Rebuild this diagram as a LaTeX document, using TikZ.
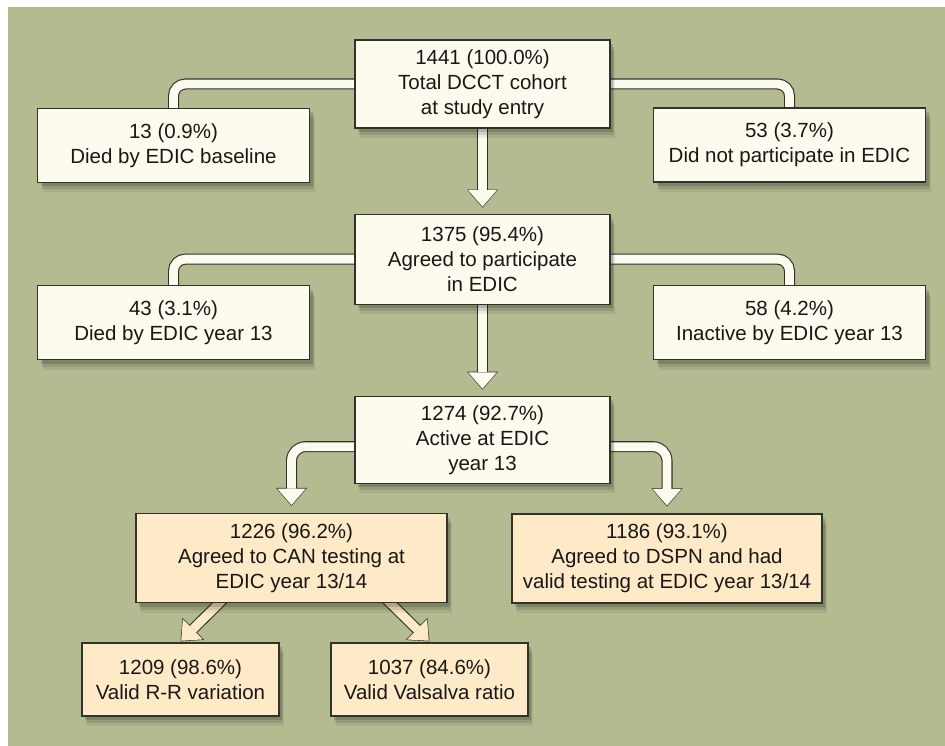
\documentclass[tikz,border=0pt]{standalone}
\usepackage{fontspec}
\setmainfont{Liberation Sans}
\usetikzlibrary{positioning,shadows,arrows.meta,backgrounds}

\definecolor{bgGreen}{RGB}{180,187,145}
\definecolor{boxCream}{RGB}{253,251,238}
\definecolor{boxPeach}{RGB}{254,234,199}
\definecolor{lineDark}{RGB}{50,50,44}
\definecolor{textDark}{RGB}{25,23,23}

\tikzset{
    box/.style={rectangle, draw=lineDark, line width=1.1pt, fill=boxCream, text=textDark,
        align=center, inner sep=0pt, font=\fontsize{20.5}{25}\selectfont,
        drop shadow={shadow xshift=5pt, shadow yshift=-10pt, opacity=.07, fill=black},
        drop shadow={shadow xshift=4pt, shadow yshift=-7pt, opacity=.1, fill=black},
        drop shadow={shadow xshift=3pt, shadow yshift=-4pt, opacity=.15, fill=black}},
    mainBox/.style={box, minimum width=255pt, minimum height=88pt},
    sideBox/.style={box, minimum width=272pt, minimum height=74pt},
    canBox/.style={box, fill=boxPeach, minimum width=311pt, minimum height=89pt},
    leafBox/.style={box, fill=boxPeach, minimum width=197pt, minimum height=73pt},
    pipe/.style={draw=lineDark, line width=11pt, rounded corners=12pt,
        postaction={draw=boxCream, line width=8.8pt}},
    fatArrow/.style={draw=lineDark, line width=11pt, rounded corners=14pt,
        -{Triangle[width=31pt, length=18pt, line width=0pt]},
        postaction={draw=#1, line width=8.8pt, shorten >=1pt,
            -{Triangle[width=28.4pt, length=16.3pt, line width=0pt]}}},
    fatArrow/.default=boxCream
}

\begin{document}
\begin{tikzpicture}[x=1pt, y=-1pt]

        \useasboundingbox (0,0) rectangle (945,746);

        % Vertices
        \node[mainBox](total) at (482.5,84){1441 (100.0\%)\\Total DCCT cohort\\at study entry};
        \node[sideBox](diedBase) at (173.5,145.5){13 (0.9\%)\\Died by EDIC baseline};
        \node[sideBox](noPart) at (789.5,145){53 (3.7\%)\\Did not participate in EDIC};
        \node[mainBox, minimum height=90pt](agreed)[below = 85pt of total]{1375 (95.4\%)\\Agreed to participate\\in EDIC};
        \node[sideBox](died13) at (173.5,322.5){43 (3.1\%)\\Died by EDIC year 13};
        \node[sideBox](inactive) at (789.5,322.5){58 (4.2\%)\\Inactive by EDIC year 13};
        \node[mainBox, minimum height=87pt](active)[below = 91pt of agreed]{1274 (92.7\%)\\Active at EDIC\\year 13};
        \node[canBox](canTest) at (291.5,558){1226 (96.2\%)\\Agreed to CAN testing at\\EDIC year 13/14};
        \node[canBox, minimum width=310pt](dspn) at (667,558.5){1186 (93.1\%)\\Agreed to DSPN and had\\valid testing at EDIC year 13/14};
        \node[leafBox](rrVar) at (180.5,679.5){1209 (98.6\%)\\Valid R-R variation};
        \node[leafBox](valsalva) at (429.5,679.5){1037 (84.6\%)\\Valid Valsalva ratio};

        % Edges
        \begin{scope}[on background layer]
            \fill[bgGreen] (8,7) rectangle (945,746);
            \draw[pipe](total.center) -| ([yshift=-3pt]diedBase.north);
            \draw[pipe](total.center) -| ([yshift=-3pt]noPart.north);
            \draw[pipe](agreed.center) -| ([yshift=-3pt]died13.north);
            \draw[pipe](agreed.center) -| ([yshift=-3pt]inactive.north);
            \draw[fatArrow](total.center) -- ([yshift=6pt]agreed.north);
            \draw[fatArrow](agreed.center) -- ([yshift=6pt]active.north);
            \draw[fatArrow]([yshift=-7pt]active.center) -| ([yshift=7pt]canTest.north);
            \draw[fatArrow]([yshift=-7pt]active.center) -| ([yshift=7pt]dspn.north);
            \draw[fatArrow=boxPeach]([xshift=-62pt, yshift=10pt]canTest.south) -- ([yshift=1pt]rrVar.north);
            \draw[fatArrow=boxPeach]([xshift=88.5pt, yshift=10pt]canTest.south) -- ([yshift=1pt]valsalva.north);
        \end{scope}

    \end{tikzpicture}
\end{document}
